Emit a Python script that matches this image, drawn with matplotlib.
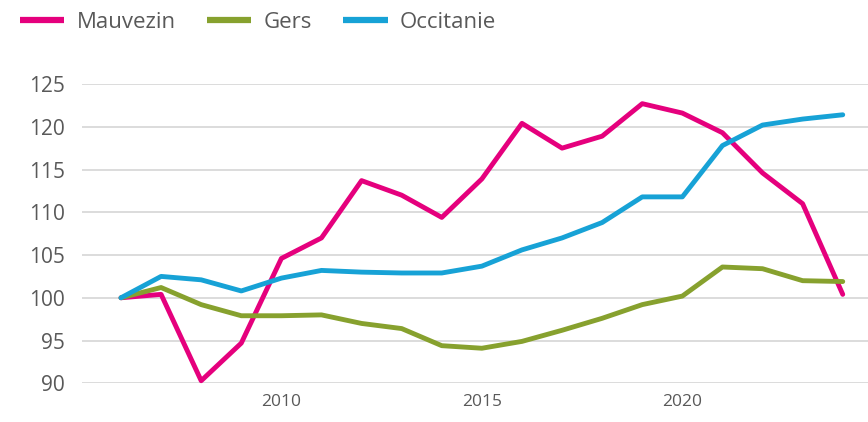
import matplotlib
matplotlib.use("Agg")
import matplotlib.pyplot as plt

# ── Data ───────────────────────────────────────────────────────────────────────
years = list(range(2006, 2025))
mauvezin = [100.0, 100.4, 90.3, 94.7, 104.6, 107.0, 113.7, 112.0, 109.4, 113.9,
            120.4, 117.5, 118.9, 122.7, 121.6, 119.3, 114.6, 111.0, 100.4]
gers = [100.0, 101.2, 99.2, 97.9, 97.9, 98.0, 97.0, 96.4, 94.4, 94.1,
        94.9, 96.2, 97.6, 99.2, 100.2, 103.6, 103.4, 102.0, 101.9]
occitanie = [100.0, 102.5, 102.1, 100.8, 102.3, 103.2, 103.0, 102.9, 102.9, 103.7,
             105.6, 107.0, 108.8, 111.8, 111.8, 117.8, 120.2, 120.9, 121.4]

x_ticks = [2010, 2015, 2020]
y_ticks = [90, 95, 100, 105, 110, 115, 120, 125]

series = [("Mauvezin", mauvezin, "#E5007D"),
          ("Gers", gers, "#87A12E"),
          ("Occitanie", occitanie, "#17A2D6")]

plt.rcParams["font.family"] = ["Open Sans", "DejaVu Sans"]
TXT = "#595959"

fig = plt.figure(figsize=(8.68, 4.22), dpi=100)
ax = fig.add_axes([81.7 / 868, (422 - 383.3) / 422, 1 - 81.7 / 868, (383.3 - 84) / 422])

for name, vals, col in series:
    ax.plot(years, vals, color=col, lw=3.5, label=name, clip_on=False,
            solid_joinstyle="round", solid_capstyle="round", zorder=3)

ax.set_xlim(2005.02, 2024.63)
ax.set_ylim(90, 125)
ax.set_xticks(x_ticks)
ax.set_yticks(y_ticks)
ax.tick_params(axis="both", length=0, colors=TXT)
ax.tick_params(axis="y", labelsize=15, pad=12)
ax.tick_params(axis="x", labelsize=12.5, pad=8)
ax.grid(axis="y", color="#d9d9d9", lw=1.3)
ax.set_axisbelow(True)
for s in ax.spines.values():
    s.set_visible(False)

leg = fig.legend(loc="upper left", bbox_to_anchor=(0.0, 1.02), ncol=3,
                 frameon=False, fontsize=16, handlelength=2.0, handletextpad=0.55,
                 columnspacing=1.4, labelcolor=TXT)
for h in leg.get_lines():
    h.set_linewidth(4.5)
    h.set_solid_capstyle("butt")

plt.savefig("out.png", dpi=100)
plt.close()
